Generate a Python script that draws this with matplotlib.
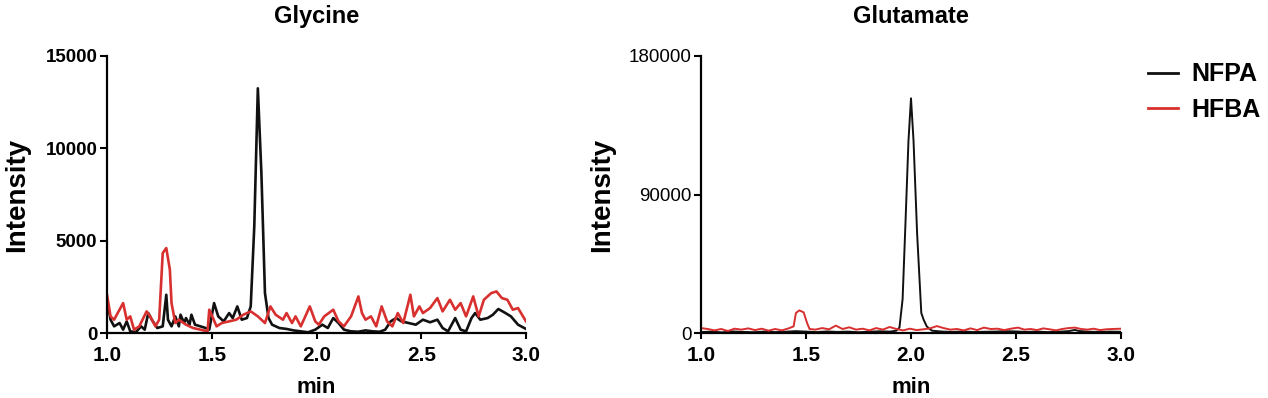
import matplotlib.pyplot as plt
from matplotlib.lines import Line2D

plt.rcParams['font.family'] = ['Liberation Sans', 'DejaVu Sans']

# Glycine chromatograms (min, intensity)
gly_nfpa_t = [1.000, 1.017, 1.034, 1.060, 1.077, 1.094, 1.111, 1.137, 1.163, 1.180,
              1.197, 1.214, 1.240, 1.266, 1.283, 1.291, 1.308, 1.326, 1.343, 1.351,
              1.368, 1.377, 1.394, 1.403, 1.420, 1.446, 1.471, 1.488, 1.511, 1.531,
              1.557, 1.583, 1.600, 1.622, 1.643, 1.668, 1.686, 1.703, 1.720, 1.737,
              1.754, 1.771, 1.788, 1.823, 1.857, 1.891, 1.925, 1.960, 1.994, 2.028,
              2.054, 2.080, 2.105, 2.131, 2.165, 2.200, 2.234, 2.268, 2.302, 2.328,
              2.354, 2.380, 2.405, 2.440, 2.474, 2.508, 2.542, 2.577, 2.602, 2.628,
              2.662, 2.688, 2.714, 2.740, 2.757, 2.782, 2.817, 2.842, 2.868, 2.902,
              2.928, 2.962, 3.000]
gly_nfpa = [1800, 720, 360, 540, 180, 630, 90, 40, 360, 180,
            1080, 720, 270, 360, 2070, 720, 360, 900, 360, 990,
            540, 810, 450, 990, 450, 360, 270, 180, 1620, 900,
            630, 1080, 810, 1440, 720, 810, 1440, 5770, 13250, 8650,
            2160, 810, 450, 270, 220, 140, 90, 40, 180, 450,
            270, 810, 540, 180, 90, 70, 140, 90, 70, 180,
            630, 810, 630, 540, 450, 720, 580, 720, 270, 90,
            810, 180, 90, 810, 1080, 720, 810, 990, 1300, 1080,
            900, 450, 220]

gly_hfba_t = [1.000, 1.017, 1.034, 1.051, 1.077, 1.094, 1.111, 1.129, 1.154, 1.189,
              1.206, 1.231, 1.249, 1.266, 1.283, 1.300, 1.308, 1.326, 1.343, 1.377,
              1.411, 1.446, 1.480, 1.488, 1.506, 1.523, 1.548, 1.583, 1.617, 1.651,
              1.686, 1.720, 1.754, 1.780, 1.805, 1.840, 1.857, 1.883, 1.900, 1.925,
              1.968, 1.994, 2.011, 2.037, 2.080, 2.105, 2.131, 2.165, 2.200, 2.217,
              2.234, 2.260, 2.285, 2.311, 2.337, 2.362, 2.388, 2.414, 2.448, 2.465,
              2.491, 2.508, 2.542, 2.577, 2.602, 2.637, 2.662, 2.688, 2.714, 2.748,
              2.774, 2.799, 2.834, 2.859, 2.885, 2.911, 2.937, 2.962, 3.000]
gly_hfba = [2070, 900, 720, 1080, 1620, 720, 900, 180, 360, 1170,
            900, 360, 720, 4330, 4600, 3430, 1620, 540, 720, 450,
            270, 180, 90, 1260, 810, 360, 540, 630, 720, 990,
            1170, 900, 540, 1440, 990, 720, 1080, 540, 900, 360,
            1440, 630, 450, 900, 1260, 630, 360, 900, 1980, 1080,
            720, 900, 360, 1440, 630, 360, 1080, 540, 2070, 900,
            1440, 1080, 1350, 1890, 1170, 1800, 1260, 1620, 900, 1980,
            900, 1800, 2160, 2250, 1890, 1800, 1260, 1350, 630]

# Glutamate chromatograms
glu_nfpa_t = [1.00, 1.05, 1.10, 1.15, 1.20, 1.25, 1.30, 1.35, 1.40, 1.45,
              1.50, 1.55, 1.60, 1.65, 1.70, 1.75, 1.80, 1.85, 1.90, 1.93,
              1.945, 1.96, 1.973, 1.988, 2.000, 2.012, 2.029, 2.049, 2.06, 2.075,
              2.09, 2.10, 2.15, 2.20, 2.25, 2.30, 2.35, 2.40, 2.45, 2.50,
              2.55, 2.60, 2.65, 2.70, 2.75, 2.78, 2.80, 2.85, 2.90, 2.95, 3.00]
glu_nfpa = [600, 900, 400, 1000, 700, 500, 900, 600, 800, 1200,
            900, 600, 1000, 700, 900, 500, 800, 1100, 900, 1500,
            3500, 22000, 69000, 125000, 152500, 125000, 65000, 13000, 8700, 4300,
            2500, 1500, 900, 700, 1000, 600, 800, 900, 1200, 1000,
            700, 900, 600, 800, 1200, 2000, 1300, 800, 700, 900, 800]

glu_hfba_t = [1.000, 1.032, 1.064, 1.096, 1.128, 1.160, 1.192, 1.225, 1.257, 1.289,
              1.321, 1.353, 1.385, 1.417, 1.441, 1.452, 1.468, 1.489, 1.505, 1.517,
              1.545, 1.577, 1.610, 1.642, 1.674, 1.706, 1.738, 1.770, 1.802, 1.834,
              1.866, 1.898, 1.930, 1.962, 1.995, 2.027, 2.059, 2.091, 2.123, 2.155,
              2.187, 2.219, 2.251, 2.283, 2.315, 2.347, 2.380, 2.412, 2.444, 2.476,
              2.51, 2.54, 2.57, 2.60, 2.63, 2.66, 2.69, 2.72, 2.75, 2.78,
              2.81, 2.84, 2.87, 2.90, 2.93, 2.96, 3.00]
glu_hfba = [3200, 2600, 1700, 2600, 1300, 2800, 2200, 3000, 1900, 2800,
            1500, 2600, 1700, 3000, 4300, 13000, 14700, 13400, 6500, 2600,
            2200, 3200, 2400, 4800, 2600, 3700, 2200, 2800, 1700, 3200,
            2200, 3900, 2600, 1700, 2800, 1900, 2400, 3000, 4500, 3200,
            2200, 2600, 1700, 3000, 1900, 3500, 2600, 2800, 1900, 2800,
            3500, 2200, 2600, 1900, 3000, 2400, 1700, 2600, 3200, 3500,
            2600, 2200, 2800, 1900, 2400, 2600, 2800]

x_ticks = [1.0, 1.5, 2.0, 2.5, 3.0]
series_labels = ['NFPA', 'HFBA']
colors = ['#111111', '#d8302f']

W, H = 1268, 398
fig = plt.figure(figsize=(W / 100, H / 100), dpi=100)


def px_axes(left, right, top, bottom):
    return fig.add_axes([left / W, 1 - bottom / H, (right - left) / W, (bottom - top) / H])


def style_axes(ax, yticks, ybold):
    ax.set_xlim(1.0, 3.0)
    ax.set_ylim(0, yticks[-1])
    ax.set_xticks(x_ticks)
    ax.set_xticklabels([f'{v:.1f}' for v in x_ticks], fontsize=15, fontweight='bold')
    ax.set_yticks(yticks)
    ax.set_yticklabels([str(v) for v in yticks], fontsize=13.5,
                       fontweight='bold' if ybold else 'normal')
    for s in ['top', 'right']:
        ax.spines[s].set_visible(False)
    for s in ['left', 'bottom']:
        ax.spines[s].set_linewidth(1.6)
    ax.tick_params(axis='x', direction='out', length=4.5, width=1.5, pad=5)
    ax.tick_params(axis='y', direction='out', length=5, width=1.5, pad=2)
    ax.set_xlabel('min', fontsize=16, fontweight='bold')
    ax.xaxis.set_label_coords(0.5, -0.195)
    ax.xaxis.label.set_va('center')


# Glycine
ax1 = px_axes(107, 526, 56, 333)
ax1.plot(gly_nfpa_t, gly_nfpa, color=colors[0], lw=1.9)
ax1.plot(gly_hfba_t, gly_hfba, color=colors[1], lw=1.9)
style_axes(ax1, [0, 5000, 10000, 15000], True)
ax1.set_ylabel('Intensity', fontsize=20, fontweight='bold', va='center')
ax1.yaxis.set_label_coords(-0.215, 0.5)
ax1.text(0.5, 1.144, 'Glycine', transform=ax1.transAxes, ha='center', va='center',
         fontsize=17, fontweight='bold')

# Glutamate
ax2 = px_axes(701, 1121, 56, 333)
ax2.plot(glu_nfpa_t, glu_nfpa, color=colors[0], lw=1.4)
ax2.plot(glu_hfba_t, glu_hfba, color=colors[1], lw=1.4)
style_axes(ax2, [0, 90000, 180000], False)
ax2.set_ylabel('Intensity', fontsize=20, fontweight='bold', va='center')
ax2.yaxis.set_label_coords(-0.236, 0.5)
ax2.text(0.5, 1.144, 'Glutamate', transform=ax2.transAxes, ha='center', va='center',
         fontsize=17, fontweight='bold')

handles = [Line2D([0], [0], color=c, lw=2) for c in colors]
fig.legend(handles, series_labels, loc='center left', bbox_to_anchor=(1143 / W, 1 - 92 / H),
           frameon=False, handlelength=1.2, handletextpad=0.55,
           labelspacing=0.45, borderaxespad=0, borderpad=0.2,
           prop={'weight': 'bold', 'size': 18})

fig.savefig('out.png', dpi=100, facecolor='white')
